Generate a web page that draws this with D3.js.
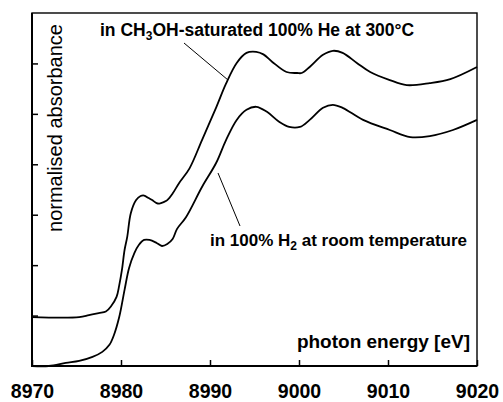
<!DOCTYPE html>
<html>
<head>
<meta charset="utf-8">
<script src="https://cdn.jsdelivr.net/npm/d3@7"></script>
<style>
  body { margin: 0; background: #fff; }
  svg { display: block; }
  text { font-family: "Liberation Sans", Arial, sans-serif; fill: #000; }
</style>
</head>
<body>
<div id="the_chart"></div>
<script>
// photon energy [eV] and normalised absorbance (in tick units)
var energyHe = [8970, 8975.3, 8976.4, 8977.5, 8978.3, 8978.9, 8979.5, 8979.8, 8980.1, 8980.4, 8980.7,
	8981.1, 8981.7, 8982.2, 8982.6, 8983.1, 8983.5, 8984.0, 8984.3, 8984.8, 8985.2, 8985.8, 8986.5,
	8987.7, 8989.1, 8990.7, 8991.8, 8993.0, 8994.1, 8995.2, 8996.0, 8997.0, 8998.6, 8999.8, 9000.3,
	9001.2, 9002.7, 9003.8, 9004.9, 9006.5, 9008.0, 9010.2, 9012.1, 9014.7, 9017.0, 9020];
var absHe = [0.97, 0.97, 1.01, 1.05, 1.08, 1.19, 1.37, 1.6, 1.9, 2.3, 2.56,
	3.03, 3.29, 3.37, 3.38, 3.33, 3.29, 3.23, 3.22, 3.25, 3.29, 3.42, 3.62,
	3.92, 4.48, 5.13, 5.60, 6.01, 6.21, 6.23, 6.18, 6.03, 5.83, 5.81, 5.81,
	5.93, 6.17, 6.25, 6.21, 6.01, 5.83, 5.67, 5.57, 5.61, 5.69, 5.93];

var energyH2 = [8970, 8971.9, 8973.8, 8975.3, 8976.8, 8977.9, 8978.7, 8979.2, 8979.8, 8980.4, 8980.9,
	8981.5, 8982.0, 8982.6, 8983.2, 8984.0, 8984.6, 8985.2, 8985.8, 8986.3, 8987.3, 8989.1, 8990.7,
	8991.8, 8993.0, 8994.1, 8995.2, 8996.4, 8997.8, 8998.9, 9000.1, 9001.2, 9002.7, 9003.8, 9004.9,
	9007.2, 9010.2, 9012.5, 9014.7, 9017.3, 9020];
var absH2 = [0, 0, 0.06, 0.10, 0.18, 0.28, 0.42, 0.61, 0.97, 1.51, 1.94,
	2.24, 2.40, 2.50, 2.50, 2.44, 2.38, 2.42, 2.52, 2.72, 2.95, 3.55, 4.03,
	4.48, 4.88, 5.08, 5.14, 5.04, 4.84, 4.74, 4.74, 4.88, 5.12, 5.18, 5.12,
	4.88, 4.68, 4.54, 4.56, 4.68, 4.88];

var xTicks = [8970, 8980, 8990, 9000, 9010, 9020];
var yTicks = [1, 2, 3, 4, 5, 6];

var w = 503, h = 402;
var pLeft = 32, pRight = 477, pTop = 13, pBottom = 366;

var svg = d3.select("#the_chart").append("svg")
	.attr("width", w)
	.attr("height", h);

var xscale = d3.scaleLinear().domain([8970, 9020]).range([pLeft, pRight]);
var yscale = d3.scaleLinear().domain([0, 7]).range([pBottom, pTop]);

var xaxis = d3.axisBottom(xscale)
	.tickValues(xTicks)
	.tickFormat(d3.format("d"))
	.tickSizeInner(-6)
	.tickSizeOuter(0)
	.tickPadding(18);

var yaxis = d3.axisLeft(yscale)
	.tickValues(yTicks)
	.tickFormat("")
	.tickSizeInner(-6)
	.tickSizeOuter(0);

svg.append("g")
	.attr("transform", "translate(0," + pBottom + ")")
	.call(xaxis)
	.call(function (g) {
		g.select(".domain").remove();
		g.selectAll("line").attr("stroke", "#000").attr("stroke-width", 1.5);
		g.selectAll("text")
			.style("font-size", "19.5px")
			.style("font-weight", "bold")
			.attr("fill", "#000");
	});

svg.append("g")
	.attr("transform", "translate(" + pLeft + ",0)")
	.call(yaxis)
	.call(function (g) {
		g.select(".domain").remove();
		g.selectAll("line").attr("stroke", "#000").attr("stroke-width", 1.5);
	});

// frame: thin top/right, heavier left/bottom like the scan
svg.append("rect")
	.attr("x", pLeft)
	.attr("y", pTop)
	.attr("width", pRight - pLeft)
	.attr("height", pBottom - pTop)
	.attr("fill", "none")
	.attr("stroke", "#000")
	.attr("stroke-width", 1.4);
svg.append("path")
	.attr("d", "M" + pLeft + "," + pTop + "V" + pBottom + "H" + pRight)
	.attr("fill", "none")
	.attr("stroke", "#000")
	.attr("stroke-width", 2);

var line = d3.line()
	.x(function (d) { return xscale(d[0]); })
	.y(function (d) { return yscale(d[1]); })
	.curve(d3.curveCatmullRom.alpha(0.5));

svg.append("path")
	.datum(d3.zip(energyHe, absHe))
	.attr("d", line)
	.attr("fill", "none")
	.attr("stroke", "#000")
	.attr("stroke-width", 1.8);

svg.append("path")
	.datum(d3.zip(energyH2, absH2))
	.attr("d", line)
	.attr("fill", "none")
	.attr("stroke", "#000")
	.attr("stroke-width", 1.8);

// leader lines
svg.append("line")
	.attr("x1", 184).attr("y1", 43).attr("x2", 228).attr("y2", 80)
	.attr("stroke", "#000").attr("stroke-width", 1);
svg.append("line")
	.attr("x1", 218).attr("y1", 173).attr("x2", 240).attr("y2", 226)
	.attr("stroke", "#000").attr("stroke-width", 1);

// annotations
var t1 = svg.append("text")
	.attr("x", 100).attr("y", 36)
	.style("font-size", "17.5px").style("font-weight", "bold");
t1.append("tspan").text("in CH");
t1.append("tspan").attr("dy", 4).style("font-size", "12px").text("3");
t1.append("tspan").attr("dy", -4).text("OH-saturated 100% He at 300°C");

var t2 = svg.append("text")
	.attr("x", 210).attr("y", 246)
	.style("font-size", "17px").style("font-weight", "bold");
t2.append("tspan").text("in 100% H");
t2.append("tspan").attr("dy", 4).style("font-size", "12px").text("2");
t2.append("tspan").attr("dy", -4).text(" at room temperature");

svg.append("text")
	.attr("x", 470).attr("y", 348)
	.attr("text-anchor", "end")
	.style("font-size", "19px").style("font-weight", "bold")
	.text("photon energy [eV]");

svg.append("text")
	.attr("transform", "translate(62,128) rotate(-90)")
	.attr("text-anchor", "middle")
	.style("font-size", "20px")
	.text("normalised absorbance");
</script>
</body>
</html>
